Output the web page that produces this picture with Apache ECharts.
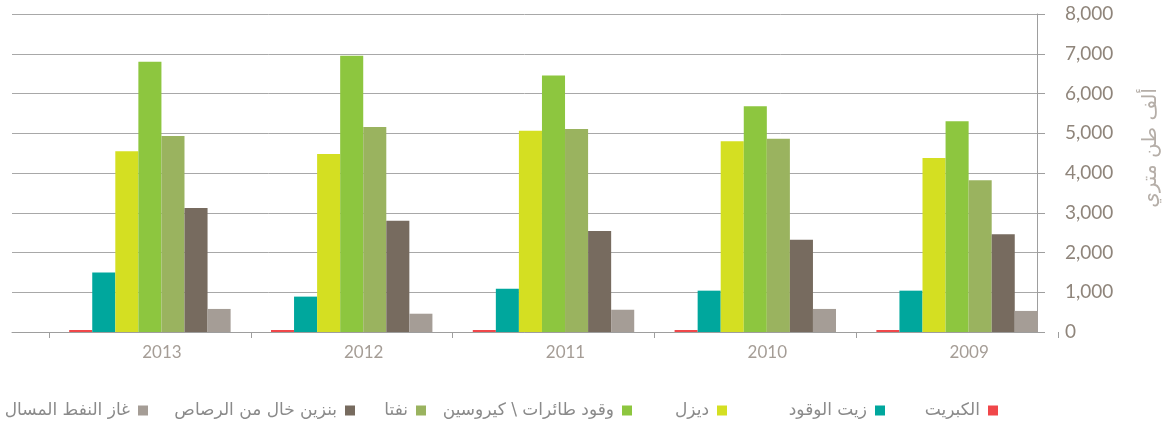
<!DOCTYPE html>
<html lang="ar">
<head>
<meta charset="utf-8">
<script src="https://cdn.jsdelivr.net/npm/echarts@6/dist/echarts.min.js"></script>
<style>
  html, body { margin: 0; padding: 0; background: #fff; }
  #chart { width: 1169px; height: 424px; }
</style>
</head>
<body>
<div id="chart"></div>
<script>
// years, left to right as in the source
const years = ['2013', '2012', '2011', '2010', '2009'];

const sulphur = [50, 50, 50, 50, 50];
const fuelOil = [1500, 890, 1090, 1040, 1040];
const diesel = [4550, 4480, 5060, 4800, 4380];
const jetKerosene = [6800, 6950, 6450, 5680, 5300];
const naphtha = [4930, 5160, 5110, 4860, 3820];
const unleaded = [3120, 2800, 2540, 2320, 2460];
const lpg = [580, 460, 560, 580, 530];

const seriesNames = [
  'الكبريت',
  'زيت الوقود',
  'ديزل',
  'وقود طائرات \\ كيروسين',
  'نفتا',
  'بنزين خال من الرصاص',
  'غاز النفط المسال'
];
const seriesValues = [sulphur, fuelOil, diesel, jetKerosene, naphtha, unleaded, lpg];
const seriesColors = ['#f0474a', '#00a79d', '#d4df22', '#8dc63f', '#9ab35f', '#776b5f', '#a59d96'];

// legend items sit at irregular spots, measured from the right edge
const legendRight = [171, 284, 442, 537, 743, 814, 1021];

const yTicks = { min: 0, max: 8000, interval: 1000 };
const unitLabel = 'ألف طن متري';

const chart = echarts.init(document.getElementById('chart'));

const arabicFont = '"DejaVu Sans", sans-serif';
const numFont = 'Lato, sans-serif';

chart.setOption({
  animation: false,
  grid: [
    // frame: gridlines, right axis and baseline
    { left: 12, right: 128, top: 14, bottom: 92 },
    // bars
    { left: 49, right: 111, top: 14, bottom: 92 }
  ],
  legend: seriesNames.map((name, i) => ({
    data: [name],
    right: legendRight[i],
    top: 402,
    align: 'right',
    itemWidth: 10,
    itemHeight: 10,
    icon: 'rect',
    selectedMode: false,
    padding: 0,
    textStyle: { fontFamily: arabicFont, fontSize: 17, color: '#8a8a8a', padding: [0, 3, 0, 0] }
  })),
  xAxis: [
    {
      gridIndex: 0,
      type: 'category',
      data: years,
      axisLine: { lineStyle: { color: '#9e9e9e', width: 1 } },
      axisTick: { show: false },
      axisLabel: { show: false },
      splitLine: { show: false }
    },
    {
      gridIndex: 1,
      type: 'category',
      data: years,
      axisLine: { show: false },
      axisTick: { show: true, length: 6, lineStyle: { color: '#9e9e9e' } },
      axisLabel: {
        fontFamily: numFont,
        fontSize: 17,
        color: '#a59d96',
        margin: 12,
        padding: [0, 0, 0, 24]
      },
      splitLine: { show: false }
    }
  ],
  yAxis: [
    {
      gridIndex: 0,
      type: 'value',
      position: 'right',
      ...yTicks,
      axisLine: { show: true, lineStyle: { color: '#9e9e9e', width: 1 } },
      axisTick: { show: true, inside: false, length: 8, lineStyle: { color: '#9e9e9e' } },
      axisLabel: {
        fontFamily: numFont,
        fontSize: 19,
        color: '#8f857b',
        margin: 28,
        formatter: (v) => v.toLocaleString('en-US')
      },
      splitLine: { show: true, lineStyle: { color: '#a8a8a8', width: 1 } },
      name: unitLabel,
      nameLocation: 'middle',
      nameRotate: 90,
      nameGap: 104,
      nameTextStyle: {
        fontFamily: arabicFont,
        fontSize: 20,
        color: '#b5aea8',
        padding: [0, 0, 0, 50]
      }
    },
    {
      gridIndex: 1,
      type: 'value',
      ...yTicks,
      show: false,
      splitLine: { show: false }
    }
  ],
  series: seriesNames.map((name, i) => ({
    name,
    type: 'bar',
    xAxisIndex: 1,
    yAxisIndex: 1,
    data: seriesValues[i],
    barGap: 0,
    barCategoryGap: '20%',
    itemStyle: { color: seriesColors[i] }
  }))
});
</script>
</body>
</html>
